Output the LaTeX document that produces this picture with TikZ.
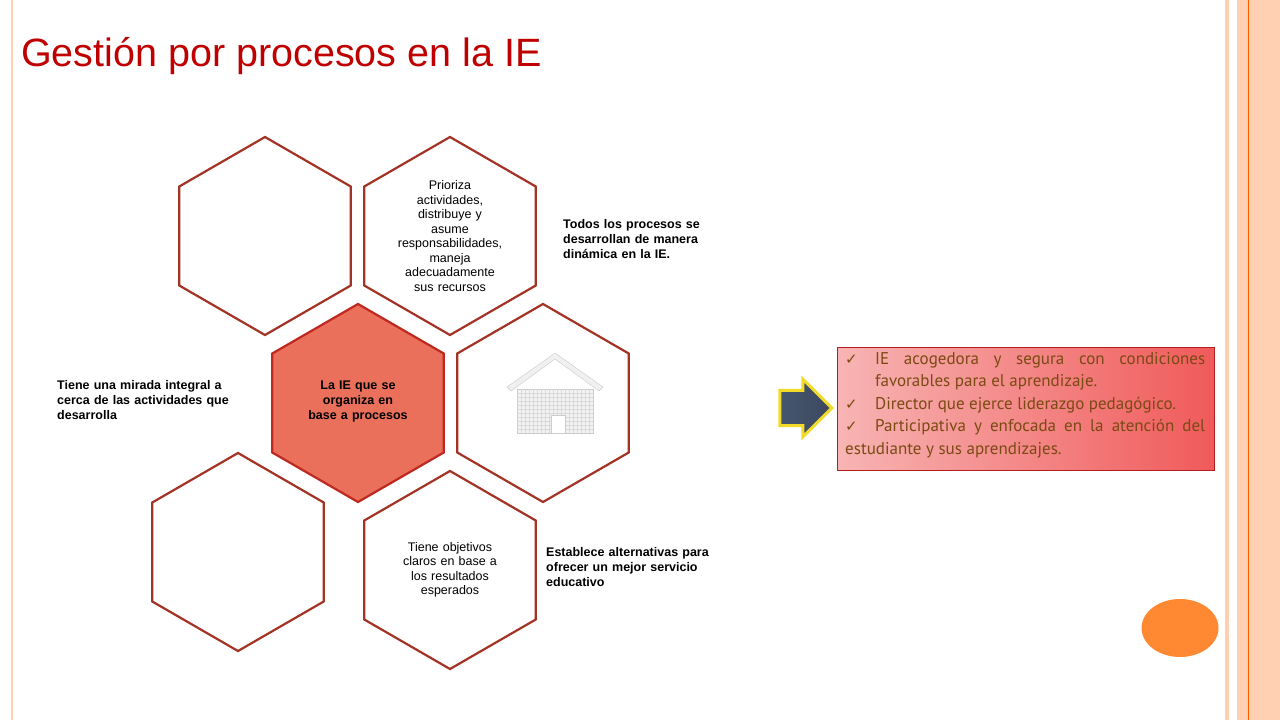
\documentclass[tikz,border=0pt]{standalone}
\usepackage{fontspec}
\setmainfont{Liberation Sans}
\newfontfamily\boxfont{PT Sans}
\newfontfamily\symfont{DejaVu Sans}
\usetikzlibrary{shapes.geometric,shapes.arrows}
\definecolor{hexred}{HTML}{A33325}
\definecolor{titlered}{HTML}{C00000}
\definecolor{boxtext}{HTML}{7A4A12}
\tikzset{
 hex/.style={regular polygon,regular polygon sides=6,shape border rotate=30,minimum size=198pt,inner sep=0pt,draw=hexred,line width=2.2pt,fill=white},
 hextext/.style={text width=120pt,align=center,font=\fontsize{12.5}{14.5}\selectfont},
 sidetext/.style={font=\bfseries\fontsize{12.5}{15}\selectfont,anchor=north west,inner sep=0pt},
}
\newcommand{\chk}{\makebox[30pt][l]{\symfont\fontsize{15}{15}\selectfont ✓}}
\begin{document}
\begin{tikzpicture}[x=1pt,y=-1pt]
\useasboundingbox (0,0) rectangle (1280,720);
\fill[white] (0,0) rectangle (1280,720);
% borders
\fill[red!20!orange!30] (1237,0) rectangle (1280,720);
\fill[red!25!orange!30] (1225,0) rectangle (1229,720);
\draw[orange!70!red,line width=1pt] (1248,0) -- (1248,720);
\draw[red!20!orange!30,line width=1.5pt] (12,0) -- (12,720);
% title
\node[anchor=base west,inner sep=0pt,text=titlered,font=\fontsize{39.5}{42}\selectfont] (title) at (21,66) {Gestión por procesos en la IE};
% hexagons
\node[hex] (h1) at (265,236) {};
\node[hex] (h2) at (450,236) {};
\node[hex,fill={rgb,255:red,234;green,112;blue,92},draw={rgb,255:red,190;green,40;blue,30}] (h3) at (358,403) {};
\node[hex] (h4) at (543,403) {};
\node[hex] (h5) at (238,552) {};
\node[hex] (h6) at (450,570) {};
\node[hextext] (t2) at (450,236) {Prioriza\\actividades,\\distribuye y\\asume\\responsabilidades,\\maneja\\adecuadamente\\sus recursos};
\node[hextext,font=\bfseries\fontsize{12.5}{15}\selectfont,text width=110pt] (t3) at (358,401) {La IE que se\\organiza en\\base a procesos};
\node[hextext] (t6) at (450,570) {Tiene objetivos\\claros en base a\\los resultados\\esperados};
% house icon
\begin{scope}[shift={(555,395)}]
\fill[gray!12,draw=gray!40] (-48,-8) -- (0,-42) -- (48,-8) -- (44,-4) -- (0,-36) -- (-44,-4) -- cycle;
\fill[gray!10,draw=gray!40] (-38,-6) rectangle (38,38);
\foreach \i in {-34,-30,...,34} \draw[gray!30,line width=0.3pt] (\i,-6) -- (\i,38);
\foreach \j in {-2,2,...,34} \draw[gray!30,line width=0.3pt] (-38,\j) -- (38,\j);
\fill[white,draw=gray!40] (-4,20) rectangle (10,38);
\end{scope}
% side texts
\node[sidetext,text width=170pt] (s1) at (563,219) {Todos los procesos se\\desarrollan de manera\\dinámica en la IE.};
\node[sidetext,text width=205pt,align=left] (s2) at (57,380) {\makebox[205pt][s]{Tiene una mirada integral a}\\\makebox[205pt][s]{cerca de las actividades que}\\desarrolla};
\node[sidetext,text width=180pt] (s3) at (546,547) {Establece alternativas para\\ofrecer un mejor servicio\\educativo};
% arrow
\node[single arrow,single arrow head extend=8pt,single arrow head indent=0pt,minimum height=52pt,minimum width=58pt,inner sep=0pt,
 draw={rgb,255:red,240;green,220;blue,40},line width=3pt,left color={rgb,255:red,70;green,85;blue,110},right color={rgb,255:red,60;green,72;blue,95},
 text height=22pt] (arr) at (797,408) {};
% box
\node[anchor=north west,minimum width=377pt,minimum height=123pt,inner sep=0pt,draw={rgb,255:red,180;green,30;blue,30},line width=0.8pt,left color={rgb,255:red,248;green,180;blue,180},right color={rgb,255:red,240;green,90;blue,90}] (box) at (837,347) {};
\node[anchor=north west,inner sep=0pt,text=boxtext,font=\boxfont\fontsize{17}{22.5}\selectfont] (boxtxt) at (845,352)
{\begin{minipage}{360pt}
\setlength{\parindent}{0pt}\hyphenpenalty=10000\exhyphenpenalty=10000
\hangindent=30pt\hangafter=1 \chk IE acogedora y segura con condiciones favorables para el aprendizaje.\par
\chk Director que ejerce liderazgo pedagógico.\par
\chk Participativa y enfocada en la atención del estudiante y sus aprendizajes.
\end{minipage}};
% orange ellipse
\node[ellipse,minimum width=77pt,minimum height=58pt,fill={rgb,255:red,255;green,136;blue,50}] (oval) at (1180,628) {};
\end{tikzpicture}
\end{document}
